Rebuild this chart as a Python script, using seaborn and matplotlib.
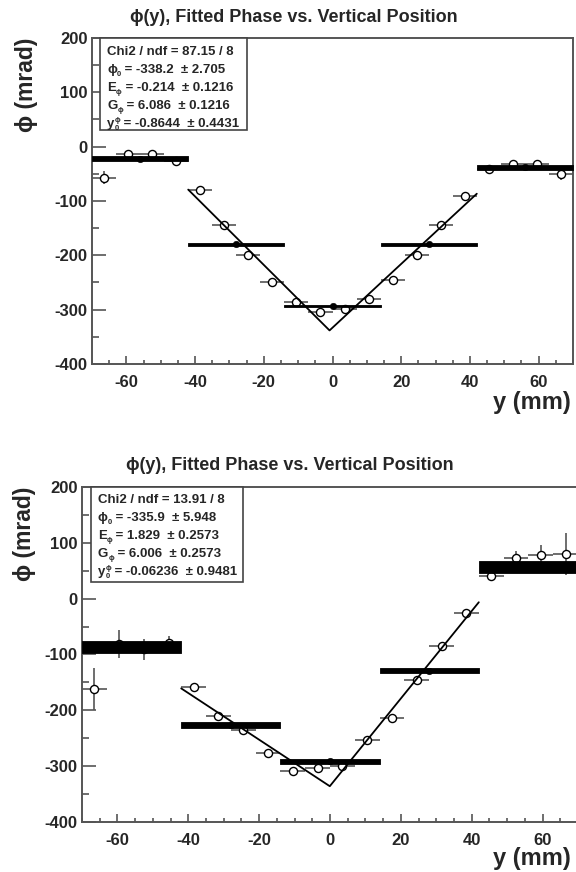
import numpy as np
import pandas as pd
import matplotlib
matplotlib.use("Agg")
import matplotlib.pyplot as plt
import seaborn as sns
from matplotlib.patches import Rectangle
from matplotlib.ticker import MultipleLocator

# ---------------------------------------------------------
# data
# ---------------------------------------------------------
ypos = [-66.5, -59.5, -52.5, -45.5, -38.5, -31.5, -24.5, -17.5, -10.5, -3.5,
        3.5, 10.5, 17.5, 24.5, 31.5, 38.5, 45.5, 52.5, 59.5, 66.5]
ypos_err = [3.5] * 20

top_phi = [-57, -13, -13, -27, -80, -145, -200, -250, -286, -304,
           -298, -280, -245, -200, -145, -90, -41, -31, -31, -50]
top_phi_err = [12, 4, 4, 4, 3, 3, 3, 3, 3, 3,
               3, 3, 3, 3, 3, 3, 3, 3, 4, 11]

bot_phi = [-162, -81, -91, -79, -159, -210, -235, -277, -308, -303,
           -300, -254, -213, -145, -84, -26, 40, 73, 79, 80]
bot_phi_err = [37, 25, 18, 13, 4, 4, 4, 4, 4, 4,
               4, 4, 4, 4, 4, 5, 6, 12, 18, 37]

bin_lo = [-70, -42, -14, 14, 42]
bin_hi = [-42, -14, 14, 42, 70]
bin_center = [-56, -28, 0, 28, 56]

top_bin_phi = [-22, -180, -293, -180, -38]
top_bin_err = [4.5, 2.0, 2.0, 2.0, 4.5]
bot_bin_phi = [-87, -226, -291, -129, 56.5]
bot_bin_err = [10.5, 5.0, 4.5, 5.0, 10.5]

# V-shaped fit: end points and vertex
top_fit_y = [-42, -0.86, 42]
top_fit_phi = [-79.0, -338.2, -86.6]
bot_fit_y = [-42, -0.06, 42]
bot_fit_phi = [-160.7, -335.9, -6.4]

PHI = "\u03d5"
# stats box lines: (text, kind) pieces, kind = n / sub / subsup
top_stats = [[("Chi2 / ndf = 87.15 / 8", "n")],
             [(PHI, "n"), ("0", "sub"), (" = -338.2  \u00b1 2.705", "n")],
             [("E", "n"), (PHI, "sub"), (" = -0.214  \u00b1 0.1216", "n")],
             [("G", "n"), (PHI, "sub"), (" = 6.086  \u00b1 0.1216", "n")],
             [("y", "n"), ((PHI, "0"), "subsup"), (" = -0.8644  \u00b1 0.4431", "n")]]
bot_stats = [[("Chi2 / ndf = 13.91 / 8", "n")],
             [(PHI, "n"), ("0", "sub"), (" = -335.9  \u00b1 5.948", "n")],
             [("E", "n"), (PHI, "sub"), (" = 1.829  \u00b1 0.2573", "n")],
             [("G", "n"), (PHI, "sub"), (" = 6.006  \u00b1 0.2573", "n")],
             [("y", "n"), ((PHI, "0"), "subsup"), (" = -0.06236  \u00b1 0.9481", "n")]]

title = PHI + "(y), Fitted Phase vs. Vertical Position"

sns.set_theme(style="ticks")
plt.rcParams['font.family'] = ['Liberation Sans', 'DejaVu Sans']
plt.rcParams['axes.unicode_minus'] = False

W, H = 576, 872
fig = plt.figure(figsize=(W / 100, H / 100), dpi=100, facecolor='white')
renderer = fig.canvas.get_renderer()

frame = '#555555'


def px_axes(left, right, top, bottom):
    return fig.add_axes([left / W, 1 - bottom / H, (right - left) / W, (bottom - top) / H])


def draw_panel(ax, phi, phi_err, b_phi, b_err, fit_y, fit_phi):
    df = pd.DataFrame({'y': ypos, 'phi': phi})
    ax.errorbar(ypos, phi, xerr=ypos_err, yerr=phi_err, fmt='none',
                ecolor='#555555', elinewidth=1.2, capsize=0, zorder=2)
    sns.scatterplot(data=df, x='y', y='phi', ax=ax, marker='o', s=34,
                    facecolor='white', edgecolor='black', linewidth=1.0, zorder=3)
    for lo, hi, v, e in zip(bin_lo, bin_hi, b_phi, b_err):
        ax.fill_between([lo, hi], v - e, v + e, color='black', linewidth=0.6,
                        edgecolor='black', zorder=4)
    dfb = pd.DataFrame({'y': bin_center, 'phi': b_phi})
    sns.scatterplot(data=dfb, x='y', y='phi', ax=ax, marker='o', s=22,
                    color='black', edgecolor='black', zorder=5)
    dff = pd.DataFrame({'y': fit_y, 'phi': fit_phi})
    sns.lineplot(data=dff, x='y', y='phi', ax=ax, sort=False, color='black',
                 linewidth=1.3, zorder=6)

    ax.set_xlim(-70, 70)
    ax.set_ylim(-400, 200)
    ax.xaxis.set_major_locator(MultipleLocator(20))
    ax.xaxis.set_minor_locator(MultipleLocator(5))
    ax.yaxis.set_major_locator(MultipleLocator(100))
    ax.yaxis.set_minor_locator(MultipleLocator(50))
    ax.tick_params(axis='y', which='major', direction='in', length=10, width=1.2,
                   color=frame, pad=3, labelsize=12)
    ax.tick_params(axis='y', which='minor', direction='in', length=5, width=1.2, color=frame)
    ax.tick_params(axis='x', which='major', direction='in', length=6, width=1.2,
                   color=frame, pad=8, labelsize=12)
    ax.tick_params(axis='x', which='minor', direction='in', length=3, width=1.2, color=frame)
    for lab in ax.get_xticklabels() + ax.get_yticklabels():
        lab.set_fontweight('bold')
    for sp in ax.spines.values():
        sp.set_color(frame)
        sp.set_linewidth(1.4)
    ax.set_xlabel('')
    ax.set_ylabel('')


def put(x, y, s, size):
    t = fig.text(x / W, 1 - y / H, s, fontsize=size, fontweight='bold',
                 va='baseline', ha='left', zorder=6)
    return t.get_window_extent(renderer).width


def draw_stats(lines, x0, x1, y0, y1, tx, baselines):
    fig.patches.append(Rectangle((x0 / W, 1 - y1 / H), (x1 - x0) / W, (y1 - y0) / H,
                                 transform=fig.transFigure, facecolor='white',
                                 edgecolor='#444444', linewidth=1.2, zorder=5))
    for pieces, b in zip(lines, baselines):
        cx = tx
        for s, kind in pieces:
            if kind == "n":
                cx += put(cx, b, s, 9.5)
            elif kind == "sub":
                cx += put(cx, b + 3, s, 5.5)
            else:
                w1 = put(cx, b - 5, s[0], 5.5)
                w2 = put(cx, b + 3, s[1], 5.5)
                cx += max(w1, w2)


# top panel
ax1 = px_axes(92, 573, 38, 364)
draw_panel(ax1, top_phi, top_phi_err, top_bin_phi, top_bin_err, top_fit_y, top_fit_phi)
fig.text(294 / W, 1 - 18 / H, title, fontsize=13, fontweight='bold', ha='center', va='center')
fig.text(27 / W, 1 - 38 / H, PHI + ' (mrad)', fontsize=16.5, fontweight='bold',
         rotation=90, ha='center', va='top')
fig.text(571 / W, 1 - 402 / H, 'y (mm)', fontsize=17, fontweight='bold',
         ha='right', va='center')
draw_stats(top_stats, 100, 247, 38, 130, 107, [55, 73, 91, 109, 127])

# bottom panel
ax2 = px_axes(82, 578, 487, 822)
draw_panel(ax2, bot_phi, bot_phi_err, bot_bin_phi, bot_bin_err, bot_fit_y, bot_fit_phi)
fig.text(290 / W, 1 - 465 / H, title, fontsize=13, fontweight='bold', ha='center', va='center')
fig.text(24 / W, 1 - 487 / H, PHI + ' (mrad)', fontsize=16.5, fontweight='bold',
         rotation=90, ha='center', va='top')
fig.text(571 / W, 1 - 858 / H, 'y (mm)', fontsize=17, fontweight='bold',
         ha='right', va='center')
draw_stats(bot_stats, 91, 243, 487, 582, 98, [503, 521, 539, 557, 575])

fig.savefig('out.png', dpi=100, facecolor='white')
